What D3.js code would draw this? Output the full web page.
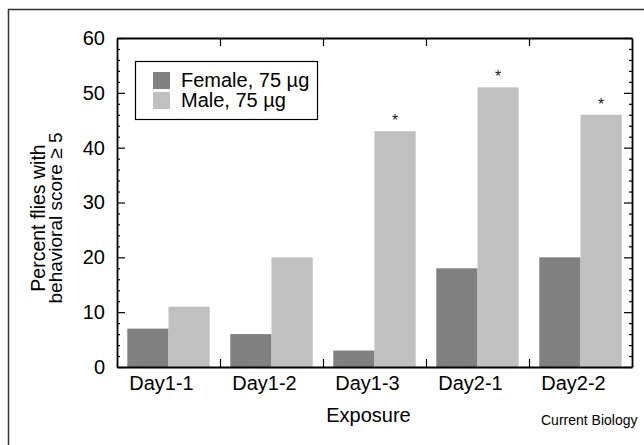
<!DOCTYPE html>
<html>
<head>
<meta charset="utf-8">
<script src="https://cdn.jsdelivr.net/npm/d3@7"></script>
<style>
  body { margin: 0; background: #fff; }
  svg { font-family: "Liberation Sans", Arial, sans-serif; }
  .axis path { stroke: #000; stroke-width: 1.8; }
  .axis line { stroke: #000; stroke-width: 1.2; }
</style>
</head>
<body>
<div id="chart"></div>
<script>
// dati
const exposures = ["Day1-1", "Day1-2", "Day1-3", "Day2-1", "Day2-2"];
const series = ["Female, 75 \u00b5g", "Male, 75 \u00b5g"];
const female = [7, 6, 3, 18, 20];
const male = [11, 20, 43, 51, 46];
const significant = [false, false, true, true, true]; // asterisco sopra la barra maschile
const yTicks = [0, 10, 20, 30, 40, 50, 60];
const yMinor = [2, 4, 6, 8, 12, 14, 16, 18, 22, 24, 26, 28, 32, 34, 36, 38, 42, 44, 46, 48, 52, 54, 56, 58];

const width = 644, height = 445;
const margin = { top: 38, right: 12, bottom: 78, left: 117 };
const innerWidth = width - margin.left - margin.right;
const innerHeight = height - margin.top - margin.bottom;
const colors = ["#808080", "#c0c0c0"];

const svg = d3.select("#chart").append("svg")
    .attr("width", width).attr("height", height);

// cornice esterna
svg.append("path")
    .attr("d", `M8.5,${height}V9.5H${width}`)
    .attr("fill", "none").attr("stroke", "#333").attr("stroke-width", 1.5);

const g = svg.append("g").attr("transform", `translate(${margin.left},${margin.top})`);

const xScale = d3.scaleBand().domain(exposures).range([0, innerWidth]).paddingInner(0.2).paddingOuter(0.1);
const xSub = d3.scaleBand().domain([0, 1]).range([0, xScale.bandwidth()]);
const xBound = d3.scaleLinear().domain([0, exposures.length]).range([0, innerWidth]);
const yScale = d3.scaleLinear().domain([0, 60]).range([innerHeight, 0]);

// barre
const groups = g.selectAll(".grp").data(exposures).enter().append("g")
    .attr("transform", d => `translate(${xScale(d)},0)`);
groups.selectAll("rect")
    .data((d, i) => [female[i], male[i]])
    .enter().append("rect")
    .attr("x", (d, j) => xSub(j))
    .attr("y", d => yScale(d))
    .attr("width", xSub.bandwidth())
    .attr("height", d => innerHeight - yScale(d))
    .attr("fill", (d, j) => colors[j]);

// asterischi
g.selectAll(".star").data(exposures.filter((d, i) => significant[i])).enter().append("text")
    .attr("x", d => xScale(d) + xSub(1) + xSub.bandwidth() / 2)
    .attr("y", d => yScale(male[exposures.indexOf(d)]) - 5)
    .attr("text-anchor", "middle").style("font-size", "16px").attr("fill", "#222")
    .text("*");

// assi
const noLabel = () => "";
g.append("g").attr("class", "axis")
    .call(d3.axisLeft(yScale).tickValues(yTicks).tickSizeInner(-8).tickSizeOuter(0).tickPadding(12).tickFormat(d3.format("d")))
    .call(a => a.selectAll("text").style("font-size", "20px").attr("fill", "#000"));
g.append("g").attr("class", "axis")
    .call(d3.axisLeft(yScale).tickValues(yMinor).tickSizeInner(-3).tickSizeOuter(0).tickFormat(noLabel))
    .call(a => a.select(".domain").remove());
g.append("g").attr("class", "axis").attr("transform", `translate(${innerWidth},0)`)
    .call(d3.axisRight(yScale).tickValues(yTicks).tickSizeInner(-8).tickSizeOuter(0).tickFormat(noLabel));
g.append("g").attr("class", "axis").attr("transform", `translate(${innerWidth},0)`)
    .call(d3.axisRight(yScale).tickValues(yMinor).tickSizeInner(-3).tickSizeOuter(0).tickFormat(noLabel))
    .call(a => a.select(".domain").remove());
g.append("g").attr("class", "axis")
    .call(d3.axisTop(xBound).tickValues([1, 2, 3, 4]).tickSizeInner(-8).tickSizeOuter(0).tickFormat(noLabel));
g.append("g").attr("class", "axis").attr("transform", `translate(0,${innerHeight})`)
    .call(d3.axisBottom(xBound).tickValues([1, 2, 3, 4]).tickSizeInner(-8).tickSizeOuter(0).tickFormat(noLabel));
g.append("g").attr("class", "axis").attr("transform", `translate(-7,${innerHeight})`)
    .call(d3.axisBottom(xScale).tickSize(0).tickPadding(9))
    .call(a => a.select(".domain").remove())
    .call(a => a.selectAll("text").style("font-size", "20px").attr("fill", "#000"));

// titoli assi
g.append("text")
    .attr("x", innerWidth / 2 - 6).attr("y", innerHeight + 55)
    .attr("text-anchor", "middle").style("font-size", "20px").text("Exposure");

const yLabel = svg.append("g").attr("transform", `translate(0,218) rotate(-90)`);
yLabel.append("text").attr("x", 0).attr("y", 45).attr("text-anchor", "middle").style("font-size", "19.5px").text("Percent flies with");
yLabel.append("text").attr("x", 0).attr("y", 62).attr("text-anchor", "middle").style("font-size", "19px").text("behavioral score \u2265 5");

// legenda
const legend = g.append("g").attr("transform", `translate(18, 23)`);
legend.append("rect").attr("x", 0.5).attr("y", 0.5).attr("width", 182).attr("height", 58)
    .attr("fill", "#fff").attr("stroke", "#000").attr("stroke-width", 1.2);
series.forEach((s, i) => {
    const row = legend.append("g").attr("transform", `translate(18, ${11 + i * 20})`);
    row.append("rect").attr("width", 17).attr("height", 17).attr("fill", colors[i]);
    row.append("text").attr("x", 28).attr("y", 15).style("font-size", "20px").text(s);
});

// fonte
svg.append("text").attr("x", 541).attr("y", 425).style("font-size", "14px").text("Current Biology");
</script>
</body>
</html>
